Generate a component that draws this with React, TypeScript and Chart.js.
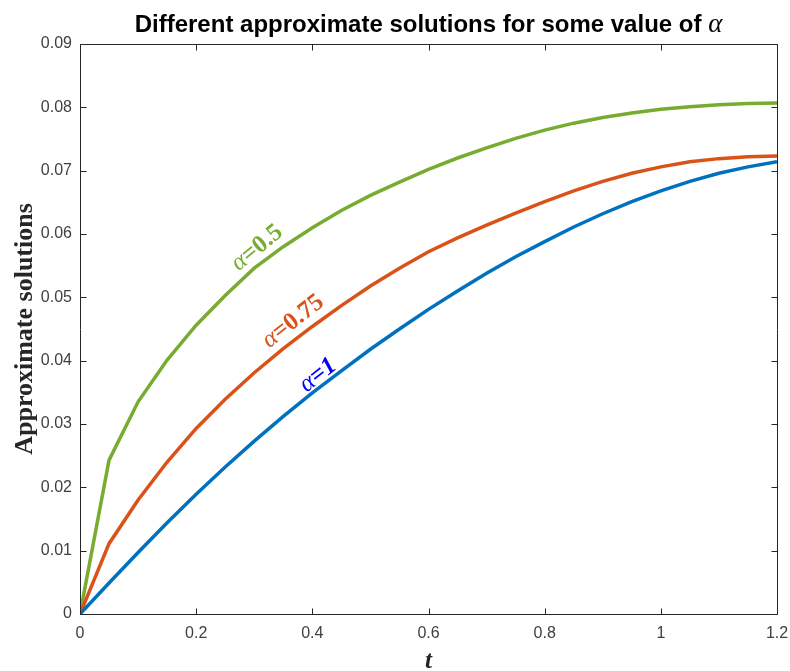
import React, { useEffect, useRef } from "react";
import { Chart, registerables } from "chart.js";

Chart.register(...registerables);

const T_VALUES = [0, 0.05, 0.1, 0.15, 0.2, 0.25, 0.3, 0.35, 0.4, 0.45, 0.5, 0.55, 0.6, 0.65, 0.7, 0.75, 0.8, 0.85, 0.9, 0.95, 1.0, 1.05, 1.1, 1.15, 1.2];
const ALPHA_1 = [0, 0.0049, 0.0097, 0.0144, 0.0189, 0.0232, 0.0273, 0.0312, 0.0349, 0.0384, 0.0418, 0.045, 0.0481, 0.051, 0.0538, 0.0564, 0.0588, 0.0611, 0.0632, 0.0651, 0.0668, 0.0683, 0.0696, 0.0706, 0.0714];
const ALPHA_075 = [0, 0.0111, 0.018, 0.024, 0.0293, 0.0339, 0.0381, 0.0419, 0.0454, 0.0487, 0.0518, 0.0546, 0.0572, 0.0594, 0.0614, 0.0633, 0.0651, 0.0668, 0.0683, 0.0696, 0.0706, 0.0714, 0.0719, 0.0722, 0.0723];
const ALPHA_05 = [0, 0.0243, 0.0335, 0.0401, 0.0456, 0.0503, 0.0546, 0.058, 0.061, 0.0637, 0.0661, 0.0682, 0.0702, 0.072, 0.0736, 0.0751, 0.0764, 0.0775, 0.0784, 0.0791, 0.0797, 0.0801, 0.0804, 0.0806, 0.0807];

const X_TICKS = [0, 0.2, 0.4, 0.6, 0.8, 1.0, 1.2];
const X_TICK_LABELS = ["0", "0.2", "0.4", "0.6", "0.8", "1", "1.2"];
const Y_TICKS = [0, 0.01, 0.02, 0.03, 0.04, 0.05, 0.06, 0.07, 0.08, 0.09];
const Y_TICK_LABELS = ["0", "0.01", "0.02", "0.03", "0.04", "0.05", "0.06", "0.07", "0.08", "0.09"];

const SERIES_NAMES = ["1", "0.75", "0.5"];
// label anchor (t, value) for each curve annotation
const LABEL_T = [0.41, 0.367, 0.305];
const LABEL_Y = [0.0377, 0.0462, 0.0578];
const LABEL_ANGLE = [-38, -38, -39];

const TITLE = "Different approximate solutions for some value of ";
const Y_TITLE = "Approximate solutions";
const X_TITLE = "t";

const COLORS = ["#0072BD", "#D95319", "#77AC30"];
const LABEL_COLORS = ["#0000FF", "#D95319", "#77AC30"];

const decorPlugin = {
  id: "decor",
  afterDraw(chart: any) {
    const { ctx, chartArea: a, scales } = chart;
    const xs = scales.x;
    const ys = scales.y;
    ctx.save();
    const L = Math.round(a.left) + 0.5;
    const R = Math.round(a.right) + 0.5;
    const Tp = Math.round(a.top) + 0.5;
    const B = Math.round(a.bottom) + 0.5;
    ctx.strokeStyle = "#262626";
    ctx.lineWidth = 1;
    ctx.beginPath();
    ctx.rect(L, Tp, R - L, B - Tp);
    const tl = 6;
    X_TICKS.forEach((v) => {
      const px = Math.round(xs.getPixelForValue(v)) + 0.5;
      ctx.moveTo(px, B);
      ctx.lineTo(px, B - tl);
      ctx.moveTo(px, Tp);
      ctx.lineTo(px, Tp + tl);
    });
    Y_TICKS.forEach((v) => {
      const py = Math.round(ys.getPixelForValue(v)) + 0.5;
      ctx.moveTo(L, py);
      ctx.lineTo(L + tl, py);
      ctx.moveTo(R, py);
      ctx.lineTo(R - tl, py);
    });
    ctx.stroke();

    // title
    ctx.fillStyle = "#000";
    ctx.textBaseline = "alphabetic";
    const tFont = "bold 24px 'Liberation Sans', Arial, sans-serif";
    const aFont = "italic 27px 'Liberation Serif', 'Times New Roman', serif";
    ctx.font = tFont;
    const w1 = ctx.measureText(TITLE).width;
    ctx.font = aFont;
    const w2 = ctx.measureText("α").width;
    const cx = (a.left + a.right) / 2;
    const sx = cx - (w1 + w2) / 2;
    ctx.font = tFont;
    ctx.textAlign = "left";
    ctx.fillText(TITLE, sx, 32);
    ctx.font = aFont;
    ctx.fillText("α", sx + w1, 32);

    // y title
    ctx.save();
    ctx.translate(a.left - 55, (a.top + a.bottom) / 2);
    ctx.rotate(-Math.PI / 2);
    ctx.font = "bold 26px 'Liberation Serif', 'Times New Roman', serif";
    ctx.textAlign = "center";
    ctx.textBaseline = "middle";
    ctx.fillStyle = "#262626";
    ctx.fillText(Y_TITLE, 0, 0);
    ctx.restore();

    // x title
    ctx.font = "bold italic 25px 'Liberation Serif', 'Times New Roman', serif";
    ctx.textAlign = "center";
    ctx.textBaseline = "alphabetic";
    ctx.fillStyle = "#262626";
    ctx.fillText(X_TITLE, cx, a.bottom + 54);

    // curve labels
    SERIES_NAMES.forEach((name, i) => {
      const px = xs.getPixelForValue(LABEL_T[i]);
      const py = ys.getPixelForValue(LABEL_Y[i]);
      ctx.save();
      ctx.translate(px, py);
      ctx.rotate((LABEL_ANGLE[i] * Math.PI) / 180);
      ctx.fillStyle = LABEL_COLORS[i];
      ctx.textBaseline = "middle";
      ctx.textAlign = "left";
      const fA = "italic 25px 'Liberation Serif', 'Times New Roman', serif";
      const fR = (name === "1" ? "italic bold" : "bold") + " 25px 'Liberation Serif', 'Times New Roman', serif";
      ctx.font = fA;
      const wa = ctx.measureText("α").width;
      ctx.font = fR;
      const rest = "=" + name;
      const wr = ctx.measureText(rest).width;
      const start = -(wa + wr) / 2;
      ctx.font = fA;
      ctx.fillText("α", start, 0);
      ctx.font = fR;
      ctx.fillText(rest, start + wa, 0);
      ctx.restore();
    });
    ctx.restore();
  },
};

export default function App() {
  const ref = useRef<HTMLCanvasElement | null>(null);
  useEffect(() => {
    if (!ref.current) return;
    const series = [ALPHA_1, ALPHA_075, ALPHA_05];
    const chart = new Chart(ref.current, {
      type: "line",
      data: {
        datasets: series.map((s, i) => ({
          label: "α=" + SERIES_NAMES[i],
          data: T_VALUES.map((t, j) => ({ x: t, y: s[j] })),
          borderColor: COLORS[i],
          backgroundColor: COLORS[i],
          borderWidth: 3.5,
          pointRadius: 0,
          tension: 0,
          fill: false,
        })),
      },
      options: {
        responsive: false,
        animation: false,
        layout: { padding: { left: 0, right: 13, top: 44, bottom: 0 } },
        plugins: {
          legend: { display: false },
          title: { display: false },
          tooltip: { enabled: false },
        },
        scales: {
          x: {
            type: "linear",
            min: 0,
            max: 1.2,
            grid: { display: false, drawTicks: false },
            border: { display: false },
            afterBuildTicks: (scale: any) => {
              scale.ticks = X_TICKS.map((v) => ({ value: v }));
            },
            afterFit: (scale: any) => {
              scale.height = 57;
              scale.paddingLeft = 0;
              scale.paddingRight = 0;
            },
            ticks: {
              padding: 10,
              color: "#404040",
              font: { family: "'Liberation Sans', Arial, sans-serif", size: 16 },
              maxRotation: 0,
              autoSkip: false,
              callback: (_v: any, idx: number) => X_TICK_LABELS[idx],
            },
          },
          y: {
            type: "linear",
            min: 0,
            max: 0.09,
            grid: { display: false, drawTicks: false },
            border: { display: false },
            afterBuildTicks: (scale: any) => {
              scale.ticks = Y_TICKS.map((v) => ({ value: v }));
            },
            afterFit: (scale: any) => {
              scale.width = 80;
              scale.paddingTop = 0;
              scale.paddingBottom = 0;
            },
            ticks: {
              padding: 8,
              color: "#404040",
              font: { family: "'Liberation Sans', Arial, sans-serif", size: 16 },
              autoSkip: false,
              callback: (_v: any, idx: number) => Y_TICK_LABELS[idx],
            },
          },
        },
      },
      plugins: [decorPlugin],
    });
    return () => chart.destroy();
  }, []);
  return (
    <div style={{ position: "absolute", left: 0, top: 0, width: 790, height: 671, background: "#fff" }}>
      <canvas ref={ref} width={790} height={671} />
    </div>
  );
}
